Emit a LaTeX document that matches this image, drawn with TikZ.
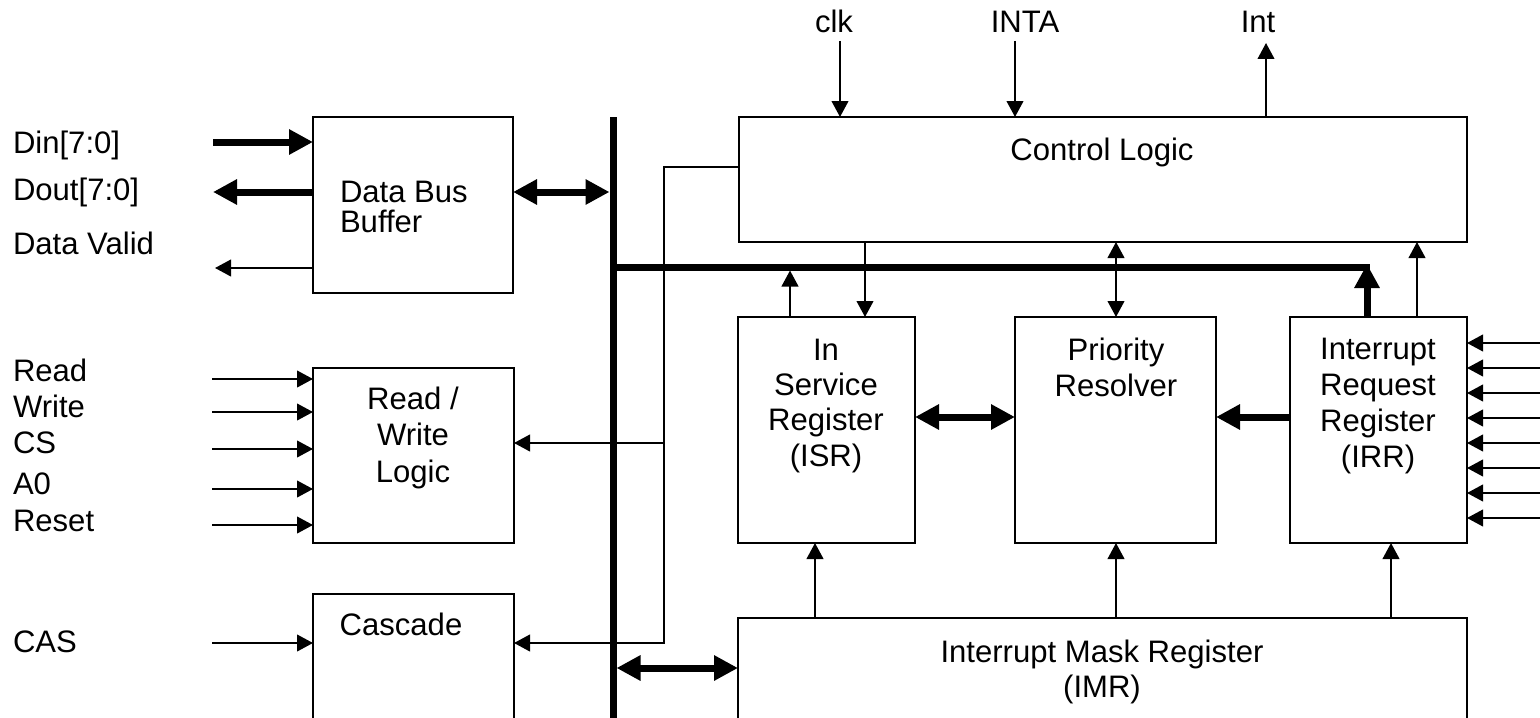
\documentclass[tikz,border=0pt]{standalone}
\usepackage{fontspec}
\setmainfont{Liberation Sans}
\usetikzlibrary{arrows.meta}
\newcommand{\mlc}[1]{\begin{tabular}[t]{@{}c@{}}#1\end{tabular}}
\newcommand{\mll}[1]{\begin{tabular}[t]{@{}l@{}}#1\end{tabular}}
\begin{document}
\begin{tikzpicture}[x=0.75pt,y=-0.75pt,
  box/.style={draw, line width=1.5pt, inner sep=0pt, outer sep=0pt},
  lbl/.style={inner sep=0pt, outer sep=0pt, font=\fontsize{23.3}{27}\selectfont},
  wire/.style={line width=1.5pt},
  wirea/.style={wire, -{Triangle[length=12pt,width=12.5pt]}},
  wireb/.style={wire, {Triangle[length=12pt,width=12.5pt]}-{Triangle[length=12pt,width=12.5pt]}},
  fat/.style={line width=5.25pt},
  fata/.style={fat, -{Triangle[length=18pt,width=18pt]}},
  fatb/.style={fat, {Triangle[length=18pt,width=18pt]}-{Triangle[length=18pt,width=18pt]}},
]
\useasboundingbox (0,0) rectangle (1540,717);
\clip (0,0) rectangle (1540,717);
\fill[white] (0,0) rectangle (1540,717);

% boxes
\node[box, minimum width=150pt, minimum height=132pt] (dbb) at (413,205) {};
\node[box, minimum width=150.75pt, minimum height=131.25pt] (rwl) at (413.5,455.5) {};
\node[box, minimum width=150.75pt, minimum height=124.5pt] (cas) at (413.5,677) {};
\node[box, minimum width=546pt, minimum height=93.75pt] (cl) at (1103,179.5) {};
\node[box, minimum width=132.75pt, minimum height=169.5pt] (isr) at (826.5,430) {};
\node[box, minimum width=150.75pt, minimum height=169.5pt] (pr) at (1115.5,430) {};
\node[box, minimum width=132.75pt, minimum height=169.5pt] (irr) at (1378.5,430) {};
\node[box, minimum width=546.75pt, minimum height=106.5pt] (imr) at (1102.5,689) {};

% box texts
\node[lbl, anchor=base west, font=\fontsize{23.3}{20.25}\selectfont] (dbbt) at (340,202) {\mll{Data Bus\\Buffer}};
\node[lbl, anchor=base, font=\fontsize{23.3}{27.4}\selectfont] (rwlt) at (413,409) {\mlc{Read /\\Write\\Logic}};
\node[lbl, anchor=base] (cast) at (401,635) {Cascade};
\node[lbl, anchor=base] (clt) at (1102,160) {Control Logic};
\node[lbl, anchor=base, font=\fontsize{23.3}{26.6}\selectfont] (isrt) at (826,360) {\mlc{In\\Service\\Register\\(ISR)}};
\node[lbl, anchor=base, font=\fontsize{23.3}{27}\selectfont] (prt) at (1116,360) {\mlc{Priority\\Resolver}};
\node[lbl, anchor=base, font=\fontsize{23.3}{27}\selectfont] (irrt) at (1378,359) {\mlc{Interrupt\\Request\\Register\\(IRR)}};
\node[lbl, anchor=base, font=\fontsize{23.3}{26.25}\selectfont] (imrt) at (1102,662) {\mlc{Interrupt Mask Register\\(IMR)}};

% outside labels
\node[lbl, anchor=base west] (ldin) at (13,153) {Din[7:0]};
\node[lbl, anchor=base west] (ldout) at (13,200) {Dout[7:0]};
\node[lbl, anchor=base west] (ldv) at (13,254) {Data Valid};
\node[lbl, anchor=base west] (lrd) at (13,381) {Read};
\node[lbl, anchor=base west] (lwr) at (13,417) {Write};
\node[lbl, anchor=base west] (lcs) at (13,453) {CS};
\node[lbl, anchor=base west] (la0) at (13,494) {A0};
\node[lbl, anchor=base west] (lrs) at (13,531) {Reset};
\node[lbl, anchor=base west] (lcas) at (13,652) {CAS};
\node[lbl, anchor=base] (lclk) at (834,33) {clk};
\node[lbl, anchor=base] (linta) at (1025,33) {INTA};
\node[lbl, anchor=base] (lint) at (1258,33) {Int};

% free ends
\coordinate (pdin) at (213,142);
\coordinate (pdout) at (213,192);
\coordinate (pdv) at (215,268);
\coordinate (prd) at (212,379);
\coordinate (pwr) at (212,412);
\coordinate (pcs) at (212,449);
\coordinate (pa0) at (212,489);
\coordinate (prs) at (212,525);
\coordinate (pcas) at (212,643);
\coordinate (pclk) at (840,41);
\coordinate (pinta) at (1015,41);
\coordinate (pint) at (1266,43);

% bus
\coordinate (bt) at (613,117);
\coordinate (bb) at (613,730);
\coordinate (bj) at (613,267);
\coordinate (be) at (1370,267);
\draw[fat] (bt) -- (bb);
\draw[fat] (bj) -- (be);

% data bus buffer
\draw[fata] (pdin) -- (dbb.west |- pdin);
\draw[fata] (dbb.west |- pdout) -- (pdout);
\draw[wirea] (dbb.west |- pdv) -- (pdv);
\draw[fatb] (dbb.east |- pdout) -- (609.5,192);

% read/write inputs
\foreach \p in {prd,pwr,pcs,pa0,prs,pcas}{
  \draw[wirea] (\p) -- (rwl.west |- \p);
}

% control logic to rw logic and cascade
\coordinate (cj1) at (664,167);
\coordinate (cj2) at (664,443);
\coordinate (cj3) at (664,643);
\draw[wirea] (cl.west |- cj1) -- (cj1) -- (cj3) -- (cas.east |- cj3);
\draw[wirea] (cj2) -- (rwl.east |- cj2);

% bus to IMR
\draw[fatb] (616.5,668) -- (imr.west |- 0,668);

% control logic top
\draw[wirea] (pclk) -- (pclk |- cl.north);
\draw[wirea] (pinta) -- (pinta |- cl.north);
\draw[wirea] (pint |- cl.north) -- (pint);

% control logic to blocks
\draw[wirea] (865,0 |- cl.south) -- (865,0 |- isr.north);
\draw[wirea] (790,0 |- isr.north) -- (790,270.5);
\draw[wireb] (1116,0 |- cl.south) -- (1116,0 |- pr.north);
\draw[wirea] (1417,0 |- irr.north) -- (1417,0 |- cl.south);
\draw[fata] (1367,0 |- irr.north) -- (1367,264);

% register interconnect
\draw[fatb] (isr.east |- 0,417) -- (pr.west |- 0,417);
\draw[fata] (irr.west |- 0,417) -- (pr.east |- 0,417);

% IRR inputs
\foreach \yy in {343,368,393,418,443,468,493,518}{
  \coordinate (in\yy) at (1545,\yy);
  \draw[wirea] (in\yy) -- (irr.east |- in\yy);
}

% IMR outputs
\draw[wirea] (815,0 |- imr.north) -- (815,0 |- isr.south);
\draw[wirea] (1116,0 |- imr.north) -- (1116,0 |- pr.south);
\draw[wirea] (1391,0 |- imr.north) -- (1391,0 |- irr.south);
\end{tikzpicture}
\end{document}
